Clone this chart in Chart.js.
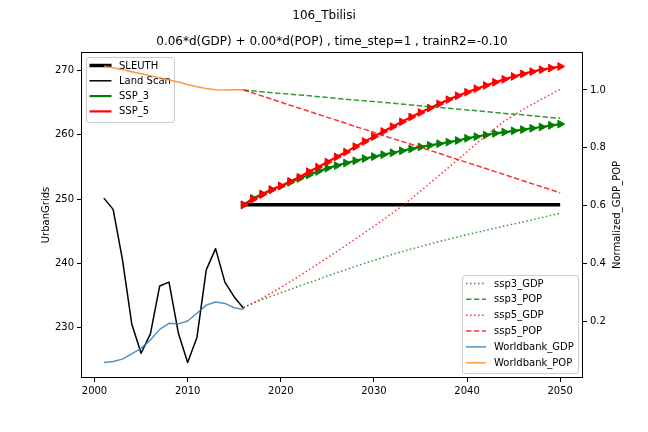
<!DOCTYPE html>
<html><head><meta charset="utf-8">
<script src="https://cdn.jsdelivr.net/npm/chart.js@4.4.0/dist/chart.umd.min.js"></script>
<style>html,body{margin:0;padding:0;background:#fff;}canvas{display:block;}</style>
</head><body>
<canvas id="c" width="648" height="432"></canvas>
<script>
const figTitle = '106_Tbilisi';
const axTitle = '0.06*d(GDP) + 0.00*d(POP) , time_step=1 , trainR2=-0.10';
const leftLabel = 'UrbanGrids';
const rightLabel = 'Normalized_GDP_POP';
const xTicks = [2000, 2010, 2020, 2030, 2040, 2050];
const leftTicks = [230, 240, 250, 260, 270];
const rightTicks = [0.2, 0.4, 0.6, 0.8, 1.0];

const histYears = [2001,2002,2003,2004,2005,2006,2007,2008,2009,2010,2011,2012,2013,2014,2015,2016];
const landScan = [250.15,248.4,240.6,230.6,226.05,229.05,236.5,237.1,229.2,224.6,228.5,239.0,242.3,237.1,234.8,233.05];
const wbGDP = [0.056,0.060,0.068,0.086,0.105,0.134,0.171,0.192,0.190,0.200,0.227,0.255,0.266,0.261,0.246,0.240];
const wbPOP = [1.083,1.077,1.070,1.063,1.056,1.049,1.042,1.035,1.028,1.019,1.011,1.005,1.001,1.000,1.001,1.001];

const sleuthYears = [2016, 2050];
const sleuth = [249.1, 249.1];

const projYears = [2016,2017,2018,2019,2020,2021,2022,2023,2024,2025,2026,2027,2028,2029,2030,2031,2032,2033,2034,2035,2036,2037,2038,2039,2040,2041,2042,2043,2044,2045,2046,2047,2048,2049,2050];
const ssp3 = [249.1,250.1,250.8,251.45,252.0,252.6,253.2,253.75,254.3,254.8,255.2,255.6,255.95,256.3,256.6,256.9,257.2,257.5,257.8,258.1,258.35,258.6,258.85,259.1,259.45,259.7,259.95,260.2,260.4,260.6,260.8,261.0,261.2,261.45,261.65];
const ssp5 = [249.1,249.95,250.7,251.45,252.05,252.75,253.4,254.25,254.95,255.75,256.55,257.3,258.15,258.95,259.7,260.5,261.25,262.0,262.75,263.45,264.15,264.8,265.45,266.05,266.6,267.15,267.65,268.15,268.6,269.05,269.45,269.8,270.1,270.35,270.6];

const scenYears = [2016,2018,2020,2022,2024,2026,2028,2030,2032,2034,2036,2038,2040,2042,2044,2046,2048,2050];
const ssp3GDP = [0.248,0.274,0.298,0.321,0.344,0.367,0.389,0.410,0.431,0.449,0.467,0.483,0.499,0.514,0.529,0.543,0.558,0.573];
const ssp3POP = [1.000,0.994,0.988,0.983,0.977,0.971,0.965,0.960,0.954,0.948,0.942,0.937,0.931,0.925,0.919,0.914,0.908,0.902];
const ssp5GDP = [0.245,0.279,0.316,0.356,0.398,0.440,0.484,0.528,0.574,0.623,0.677,0.731,0.786,0.842,0.892,0.932,0.968,1.002];
const ssp5POP = [1.000,0.979,0.958,0.937,0.916,0.895,0.874,0.853,0.832,0.812,0.791,0.770,0.749,0.728,0.707,0.686,0.665,0.644];

const FONT = "'DejaVu Sans', sans-serif";
const pts = (xs, ys) => xs.map((x, i) => ({x: x, y: ys[i]}));
const DOT = [1.5, 2.5];
const DASH = [5.5, 2.4];

const defs = [
  {label:'SLEUTH', data:pts(sleuthYears, sleuth), yAxisID:'y', borderColor:'#000', borderWidth:3.5, group:'L'},
  {label:'Land Scan', data:pts(histYears, landScan), yAxisID:'y', borderColor:'#000', borderWidth:1.5, group:'L'},
  {label:'SSP_3', data:pts(projYears, ssp3), yAxisID:'y', borderColor:'green', borderWidth:2.2, group:'L', marker:true},
  {label:'SSP_5', data:pts(projYears, ssp5), yAxisID:'y', borderColor:'red', borderWidth:2.2, group:'L', marker:true},
  {label:'ssp3_GDP', data:pts(scenYears, ssp3GDP), yAxisID:'y2', borderColor:'rgba(0,128,0,0.8)', borderWidth:1.5, borderDash:DOT, group:'R'},
  {label:'ssp3_POP', data:pts(scenYears, ssp3POP), yAxisID:'y2', borderColor:'rgba(0,128,0,0.8)', borderWidth:1.5, borderDash:DASH, group:'R'},
  {label:'ssp5_GDP', data:pts(scenYears, ssp5GDP), yAxisID:'y2', borderColor:'rgba(255,0,0,0.8)', borderWidth:1.5, borderDash:DOT, group:'R'},
  {label:'ssp5_POP', data:pts(scenYears, ssp5POP), yAxisID:'y2', borderColor:'rgba(255,0,0,0.8)', borderWidth:1.5, borderDash:DASH, group:'R'},
  {label:'Worldbank_GDP', data:pts(histYears, wbGDP), yAxisID:'y2', borderColor:'rgba(31,119,180,0.8)', borderWidth:1.5, group:'R'},
  {label:'Worldbank_POP', data:pts(histYears, wbPOP), yAxisID:'y2', borderColor:'rgba(255,127,14,0.8)', borderWidth:1.5, group:'R'}
];
const N = defs.length;
const LAST_LEFT = 3;
const datasets = defs.map((d, i) => Object.assign({
  type:'line', fill:false, tension:0, order: N - i,
  pointRadius: d.marker ? 4.5 : 0,
  pointStyle:'triangle', pointRotation:90,
  pointBackgroundColor:d.borderColor, pointBorderColor:d.borderColor, pointBorderWidth:1,
  borderDash: d.borderDash || [], borderCapStyle:'butt', borderJoinStyle:'round'
}, d));

function drawLegend(chart, group, box, rowY, rowStep, hx0, hx1, tx) {
  const ctx = chart.ctx;
  ctx.save();
  ctx.beginPath();
  const r = 2.5, x = box[0], y = box[1], w = box[2], h = box[3];
  ctx.moveTo(x+r, y); ctx.lineTo(x+w-r, y); ctx.arcTo(x+w, y, x+w, y+r, r);
  ctx.lineTo(x+w, y+h-r); ctx.arcTo(x+w, y+h, x+w-r, y+h, r);
  ctx.lineTo(x+r, y+h); ctx.arcTo(x, y+h, x, y+h-r, r);
  ctx.lineTo(x, y+r); ctx.arcTo(x, y, x+r, y, r); ctx.closePath();
  ctx.fillStyle = 'rgba(255,255,255,0.8)'; ctx.fill();
  ctx.strokeStyle = '#cccccc'; ctx.lineWidth = 1; ctx.stroke();
  let k = 0;
  chart.data.datasets.forEach(ds => {
    if (ds.group !== group) return;
    const yy = rowY + k * rowStep;
    ctx.beginPath();
    ctx.setLineDash(ds.borderDash || []);
    ctx.strokeStyle = ds.borderColor; ctx.lineWidth = ds.borderWidth;
    ctx.lineCap = 'butt';
    ctx.moveTo(hx0, yy); ctx.lineTo(hx1, yy); ctx.stroke();
    ctx.setLineDash([]);
    ctx.font = '10px ' + FONT; ctx.fillStyle = '#000';
    ctx.textAlign = 'left'; ctx.textBaseline = 'middle';
    ctx.fillText(ds.label, tx, yy + 0.5);
    k++;
  });
  ctx.restore();
}

function drawFrame(chart) {
  const a = chart.chartArea, ctx = chart.ctx;
  ctx.save();
  ctx.strokeStyle = '#000'; ctx.lineWidth = 1;
  ctx.strokeRect(Math.round(a.left)+0.5, Math.round(a.top)+0.5, Math.round(a.right-a.left)-1, Math.round(a.bottom-a.top)-1);
  ctx.restore();
}

const overlayPlugin = {
  id:'overlay',
  afterDatasetDraw(chart, args) {
    if (args.index === LAST_LEFT) {
      drawFrame(chart);
      drawLegend(chart, 'L', [86.5, 57.5, 88, 65], 65.5, 15.3, 89.5, 111.5, 119);
    }
  },
  afterDatasetsDraw(chart) {
    drawFrame(chart);
  },
  afterDraw(chart) {
    const ctx = chart.ctx;
    ctx.save();
    ctx.font = '10px ' + FONT; ctx.fillStyle = '#000';
    ctx.textAlign = 'center'; ctx.textBaseline = 'middle';
    ctx.translate(617, (chart.chartArea.top + chart.chartArea.bottom)/2);
    ctx.rotate(-Math.PI/2);
    ctx.fillText(rightLabel, 0, 0);
    ctx.restore();
    drawLegend(chart, 'R', [462.5, 275.5, 116, 98], 283.5, 15.85, 466, 486, 494);
  }
};

new Chart(document.getElementById('c'), {
  type:'line',
  data:{datasets},
  plugins:[overlayPlugin],
  options:{
    responsive:false, animation:false, devicePixelRatio:1,
    layout:{padding:0},
    plugins:{
      legend:{display:false}, tooltip:{enabled:false},
      title:{display:true, text:figTitle, color:'#000', font:{family:FONT, size:12, weight:'normal'}, padding:{top:9, bottom:0}},
      subtitle:{display:true, text:axTitle, color:'#000', fullSize:false, font:{family:FONT, size:12, weight:'normal'}, padding:{top:11.4, bottom:2.8}}
    },
    scales:{
      x:{type:'linear', min:1998.55, max:2052.45,
        border:{display:false},
        grid:{display:true, drawOnChartArea:false, drawTicks:true, tickLength:4, color:'#000'},
        ticks:{color:'#000', font:{family:FONT, size:10}, padding:3, maxRotation:0, callback:v=>String(v)},
        afterBuildTicks:s=>{s.ticks = xTicks.map(v=>({value:v}));},
        afterFit:s=>{s.height = 54;}
      },
      y:{type:'linear', position:'left', min:222.2, max:272.85,
        border:{display:false},
        grid:{display:true, drawOnChartArea:false, drawTicks:true, tickLength:4, color:'#000'},
        ticks:{color:'#000', font:{family:FONT, size:10}, padding:3, callback:v=>String(v)},
        title:{display:true, text:leftLabel, color:'#000', font:{family:FONT, size:10}, padding:{top:40, bottom:0}},
        afterBuildTicks:s=>{s.ticks = leftTicks.map(v=>({value:v}));},
        afterFit:s=>{s.width = 81;}
      },
      y2:{type:'linear', position:'right', min:0.0026, max:1.1316,
        border:{display:false},
        grid:{display:true, drawOnChartArea:false, drawTicks:true, tickLength:4, color:'#000'},
        ticks:{color:'#000', font:{family:FONT, size:10}, padding:3, callback:v=>Number(v).toFixed(1)},
        afterBuildTicks:s=>{s.ticks = rightTicks.map(v=>({value:v}));},
        afterFit:s=>{s.width = 65;}
      }
    }
  }
});
</script>
</body></html>
